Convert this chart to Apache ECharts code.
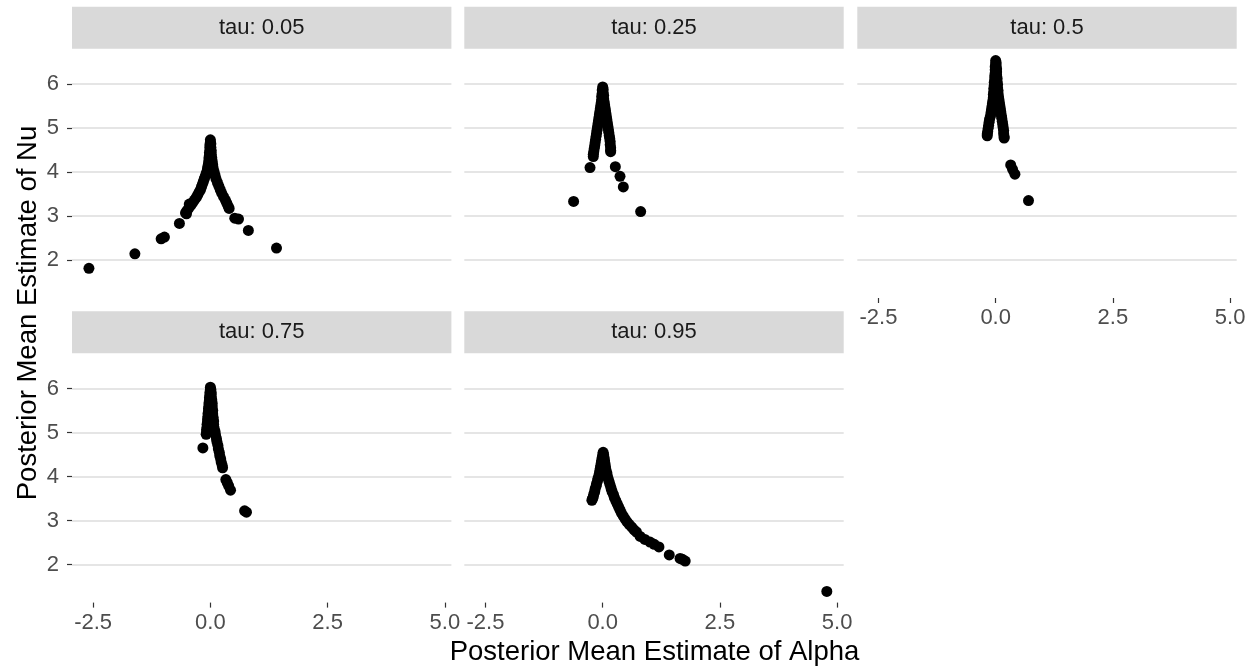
<!DOCTYPE html>
<html>
<head>
<meta charset="utf-8">
<script src="https://cdn.jsdelivr.net/npm/echarts@6/dist/echarts.min.js"></script>
<style>html,body{margin:0;padding:0;background:#fff;}#c{width:1257px;height:671px;}</style>
</head>
<body>
<div id="c"></div>
<script>
// ---- data ----
const panelTitles = ['tau: 0.05', 'tau: 0.25', 'tau: 0.5', 'tau: 0.75', 'tau: 0.95'];
const xTicks = [-2.5, 0, 2.5, 5];
const yTicks = [2, 3, 4, 5, 6];
const xLabel = 'Posterior Mean Estimate of Alpha';
const yLabel = 'Posterior Mean Estimate of Nu';

const tau005 = [
  [0.00,4.73],[0.00,4.68],[-0.01,4.62],[-0.01,4.56],[-0.01,4.50],[-0.02,4.44],[-0.02,4.38],[-0.03,4.32],
  [-0.03,4.26],[-0.04,4.20],[-0.05,4.14],[-0.06,4.08],[-0.07,4.02],[-0.09,3.96],[-0.11,3.90],[-0.13,3.84],
  [-0.15,3.78],[-0.17,3.72],[-0.19,3.66],[-0.21,3.60],[-0.24,3.54],[-0.27,3.48],[-0.30,3.42],[-0.34,3.36],
  [-0.38,3.30],[-0.45,3.27],[-0.42,3.24],[-0.46,3.18],[-0.50,3.12],[-0.53,3.07],[-0.51,3.05],[-0.66,2.83],
  [-0.98,2.52],[-1.05,2.48],[-1.61,2.14],[-2.59,1.81],
  [0.01,4.64],[0.01,4.56],[0.02,4.48],[0.02,4.40],[0.03,4.32],[0.04,4.24],[0.05,4.16],[0.06,4.08],
  [0.08,4.00],[0.10,3.92],[0.12,3.84],[0.15,3.76],[0.18,3.68],[0.21,3.60],[0.24,3.52],[0.28,3.44],
  [0.32,3.36],[0.35,3.29],[0.38,3.22],[0.40,3.17],[0.52,2.95],[0.60,2.93],[0.81,2.67],[1.41,2.27]
];
const tau025 = [
  [0.00,5.93],[-0.01,5.86],[-0.01,5.79],[-0.02,5.72],[-0.02,5.65],[-0.03,5.58],[-0.04,5.51],[-0.05,5.44],
  [-0.06,5.37],[-0.07,5.30],[-0.08,5.23],[-0.09,5.16],[-0.10,5.09],[-0.11,5.02],[-0.12,4.95],[-0.13,4.88],
  [-0.14,4.81],[-0.15,4.74],[-0.16,4.67],[-0.17,4.60],[-0.18,4.53],[-0.19,4.46],[-0.20,4.40],[-0.20,4.35],
  [-0.27,4.10],[-0.62,3.33],
  [0.01,5.88],[0.01,5.81],[0.02,5.74],[0.02,5.67],[0.03,5.60],[0.04,5.53],[0.05,5.46],[0.06,5.39],
  [0.07,5.32],[0.08,5.25],[0.09,5.18],[0.10,5.11],[0.11,5.04],[0.12,4.97],[0.13,4.90],[0.14,4.83],
  [0.15,4.76],[0.16,4.69],[0.16,4.62],[0.17,4.55],[0.17,4.49],[0.17,4.46],
  [0.27,4.12],[0.37,3.90],[0.44,3.66],[0.81,3.10]
];
const tau05 = [
  [0.00,6.53],[0.00,6.46],[-0.01,6.39],[-0.01,6.32],[-0.01,6.25],[-0.02,6.18],[-0.02,6.11],[-0.03,6.04],
  [-0.03,5.97],[-0.04,5.90],[-0.04,5.83],[-0.05,5.76],[-0.05,5.69],[-0.06,5.62],[-0.07,5.55],[-0.08,5.48],
  [-0.09,5.41],[-0.10,5.34],[-0.11,5.27],[-0.13,5.20],[-0.14,5.13],[-0.15,5.06],[-0.16,4.99],[-0.17,4.92],
  [-0.18,4.86],[-0.18,4.82],
  [0.01,6.48],[0.01,6.41],[0.02,6.34],[0.02,6.27],[0.02,6.20],[0.03,6.13],[0.03,6.06],[0.04,5.99],
  [0.04,5.92],[0.05,5.85],[0.05,5.78],[0.06,5.71],[0.07,5.64],[0.08,5.57],[0.09,5.50],[0.10,5.43],
  [0.11,5.36],[0.12,5.29],[0.13,5.22],[0.14,5.15],[0.15,5.08],[0.16,5.01],[0.17,4.94],[0.17,4.87],
  [0.18,4.80],[0.18,4.77],
  [0.32,4.16],[0.36,4.06],[0.41,3.95],[0.70,3.35]
];
const tau075 = [
  [0.00,6.03],[0.00,5.97],[-0.01,5.91],[-0.01,5.85],[-0.02,5.79],[-0.02,5.73],[-0.03,5.67],[-0.03,5.61],
  [-0.04,5.55],[-0.04,5.49],[-0.05,5.43],[-0.05,5.37],[-0.06,5.31],[-0.06,5.25],[-0.07,5.19],[-0.07,5.13],
  [-0.08,5.07],[-0.08,5.01],[-0.09,4.96],[-0.16,4.65],
  [0.01,5.98],[0.02,5.90],[0.02,5.82],[0.03,5.74],[0.04,5.66],[0.04,5.58],[0.05,5.50],[0.05,5.42],
  [0.06,5.34],[0.07,5.26],[0.07,5.18],[0.08,5.10],[0.10,5.02],[0.11,4.94],[0.13,4.86],[0.14,4.79],
  [0.16,4.71],[0.17,4.63],[0.19,4.55],[0.20,4.47],[0.22,4.40],[0.23,4.33],[0.25,4.26],[0.26,4.20],
  [0.33,3.93],[0.36,3.86],[0.39,3.79],[0.43,3.69],[0.73,3.22],[0.77,3.19]
];
const tau095 = [
  [0.01,4.55],[0.00,4.49],[-0.01,4.43],[-0.02,4.37],[-0.03,4.31],[-0.04,4.25],[-0.05,4.19],[-0.06,4.13],
  [-0.07,4.07],[-0.08,4.02],[-0.10,3.96],[-0.11,3.90],[-0.13,3.84],[-0.14,3.78],[-0.16,3.72],[-0.17,3.66],
  [-0.19,3.60],[-0.20,3.54],[-0.22,3.49],[-0.23,3.46],
  [0.02,4.50],[0.03,4.43],[0.04,4.36],[0.05,4.29],[0.06,4.22],[0.07,4.15],[0.09,4.08],[0.10,4.01],
  [0.12,3.94],[0.14,3.87],[0.16,3.80],[0.18,3.73],[0.20,3.66],[0.23,3.59],[0.25,3.52],[0.28,3.45],
  [0.31,3.38],[0.34,3.31],[0.37,3.24],[0.40,3.17],[0.44,3.10],[0.48,3.03],[0.52,2.97],[0.57,2.91],
  [0.62,2.85],[0.67,2.79],[0.72,2.74],[0.80,2.64],[0.90,2.57],[1.01,2.51],[1.10,2.46],[1.20,2.40],
  [1.42,2.22],[1.65,2.14],[1.70,2.12],[1.76,2.08],[4.78,1.39]
];
const panelData = [tau005, tau025, tau05, tau075, tau095];

// ---- layout ----
const FONT = '"Liberation Sans", Arial, sans-serif';
const colLeft = [72, 464.3, 857.3];
const panelW = 379.4;
const rowTop = [48.7, 353.3];
const panelH = 249.3;
const stripH = 42;
const xMin = -2.951, xMax = 5.14, yMin = 1.136, yMax = 6.80;

const pos = [[0,0],[1,0],[2,0],[0,1],[1,1]];
const showX = [false, false, true, true, true];
const showY = [true, false, false, true, false];

const grids = [], xAxes = [], yAxes = [], series = [], graphics = [];
pos.forEach(([c, r], i) => {
  grids.push({ left: colLeft[c], top: rowTop[r], width: panelW, height: panelH, containLabel: false });
  xAxes.push({
    gridIndex: i, type: 'value', min: xMin, max: xMax, position: 'bottom',
    axisLine: { show: false, onZero: false },
    axisTick: { show: showX[i], length: 5, customValues: xTicks, lineStyle: { color: '#333333', width: 1.2 } },
    axisLabel: { show: showX[i], customValues: xTicks, margin: 9, color: '#4d4d4d', fontSize: 22, fontFamily: FONT,
      formatter: v => v.toFixed(1) },
    splitLine: { show: false }
  });
  yAxes.push({
    gridIndex: i, type: 'value', min: yMin, max: yMax, position: 'left',
    axisLine: { show: false, onZero: false },
    axisTick: { show: showY[i], length: 5, customValues: yTicks, lineStyle: { color: '#333333', width: 1.2 } },
    axisLabel: { show: showY[i], customValues: yTicks, margin: 13, color: '#4d4d4d', fontSize: 22, fontFamily: FONT },
    splitLine: { show: true, lineStyle: { color: '#dcdcdc', width: 1.6 } }
  });
  series.push({
    type: 'scatter', xAxisIndex: i, yAxisIndex: i, data: panelData[i],
    symbolSize: 11, itemStyle: { color: '#000000', opacity: 1 }, silent: true
  });
  const top = rowTop[r] - stripH;
  graphics.push({ type: 'rect', shape: { x: colLeft[c], y: top, width: panelW, height: stripH }, style: { fill: '#d9d9d9' }, silent: true });
  graphics.push({ type: 'text', x: colLeft[c] + panelW / 2, y: top + stripH / 2,
    style: { text: panelTitles[i], fill: '#1a1a1a', fontSize: 22, fontFamily: FONT, align: 'center', verticalAlign: 'middle' }, silent: true });
});
graphics.push({ type: 'text', x: 654.5, y: 652.5,
  style: { text: xLabel, fill: '#000000', fontSize: 27.5, fontFamily: FONT, align: 'center', verticalAlign: 'middle' } });
graphics.push({ type: 'text', x: 28, y: 313, rotation: Math.PI / 2,
  style: { text: yLabel, fill: '#000000', fontSize: 27.5, fontFamily: FONT, align: 'center', verticalAlign: 'middle' } });

const chart = echarts.init(document.getElementById('c'), null, { renderer: 'canvas' });
chart.setOption({
  animation: false,
  backgroundColor: '#ffffff',
  grid: grids, xAxis: xAxes, yAxis: yAxes, series: series, graphic: graphics
});
</script>
</body>
</html>
